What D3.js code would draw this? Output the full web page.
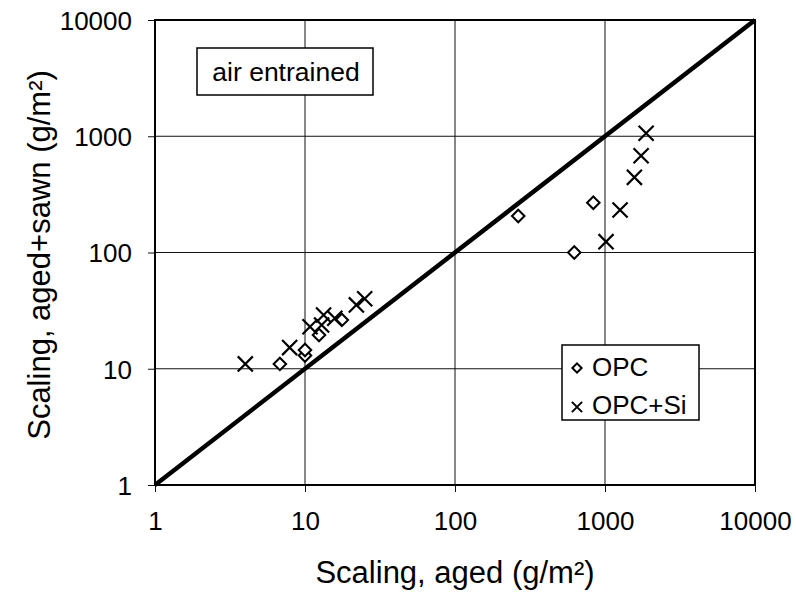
<!DOCTYPE html>
<html>
<head>
<meta charset="utf-8">
<script src="https://cdn.jsdelivr.net/npm/d3@7"></script>
<style>
  body { margin: 0; background: #fff; }
  text { font-family: "Liberation Sans", Arial, sans-serif; fill: #000; }
</style>
</head>
<body>
<div id="chart"></div>
<script>
// OPC series, [aged, aged+sawn]
var opc = [
    [6.8, 11], [10, 13], [10, 14.5], [12.4, 19.5], [17.6, 26.3],
    [264, 206], [624, 100], [836, 268]
];
// OPC+Si series
var opcSi = [
    [4, 11], [7.9, 15.2], [10.8, 23], [12.9, 23.8], [13.3, 29], [15.8, 27.2],
    [22, 35.4], [25, 40], [1016, 124], [1260, 232], [1570, 443], [1740, 680], [1880, 1060]
];
var ticks = [1, 10, 100, 1000, 10000];
var lineEnds = [1, 10000];

var width = 796, height = 596;
var plotL = 155, plotR = 755, plotT = 20, plotB = 485;

var svg = d3.select("#chart")
    .append("svg")
    .attr("width", width)
    .attr("height", height);

var x = d3.scaleLog().domain([1, 10000]).range([plotL, plotR]);
var y = d3.scaleLog().domain([1, 10000]).range([plotB, plotT]);

// grid
svg.append("g")
    .selectAll("line")
    .data(ticks)
    .enter()
    .append("line")
    .attr("x1", d => x(d)).attr("x2", d => x(d))
    .attr("y1", plotT).attr("y2", plotB)
    .attr("stroke", "#111").attr("stroke-width", 1);

svg.append("g")
    .selectAll("line")
    .data(ticks)
    .enter()
    .append("line")
    .attr("y1", d => y(d)).attr("y2", d => y(d))
    .attr("x1", plotL).attr("x2", plotR)
    .attr("stroke", "#111").attr("stroke-width", 1);

// axes
var xAxis = d3.axisBottom(x).tickValues(ticks).tickFormat(d3.format("d")).tickSizeOuter(0).tickSize(7).tickPadding(20);
var yAxis = d3.axisLeft(y).tickValues(ticks).tickFormat(d3.format("d")).tickSizeOuter(0).tickSize(7).tickPadding(16);

var gx = svg.append("g").attr("transform", "translate(0," + plotB + ")").call(xAxis);
var gy = svg.append("g").attr("transform", "translate(" + plotL + ",0)").call(yAxis);
[gx, gy].forEach(function(g) {
    g.attr("font-size", null).attr("font-family", null);
    g.select(".domain").remove();
    g.selectAll(".tick line").attr("stroke", "#111");
    g.selectAll(".tick text")
        .style("font-size", "26px")
        .attr("fill", "#000");
});
gy.selectAll(".tick text").attr("dy", "0.36em");

// frame
svg.append("rect")
    .attr("x", plotL).attr("y", plotT)
    .attr("width", plotR - plotL).attr("height", plotB - plotT)
    .attr("fill", "none").attr("stroke", "#000").attr("stroke-width", 2);

// 1:1 line
svg.append("line")
    .attr("x1", x(lineEnds[0])).attr("y1", y(lineEnds[0]))
    .attr("x2", x(lineEnds[1])).attr("y2", y(lineEnds[1]))
    .attr("stroke", "#000").attr("stroke-width", 4.5);

// markers
var diamond = d3.symbol().type(d3.symbolDiamond2).size(100);
svg.append("g")
    .selectAll("path")
    .data(opc)
    .enter()
    .append("path")
    .attr("d", diamond)
    .attr("transform", d => "translate(" + x(d[0]) + "," + y(d[1]) + ")")
    .attr("fill", "#fff").attr("stroke", "#000").attr("stroke-width", 2);

var cross = d3.symbol().type(d3.symbolX).size(150);
svg.append("g")
    .selectAll("path")
    .data(opcSi)
    .enter()
    .append("path")
    .attr("d", cross)
    .attr("transform", d => "translate(" + x(d[0]) + "," + y(d[1]) + ")")
    .attr("fill", "none").attr("stroke", "#000").attr("stroke-width", 2.2);

// annotation box
var note = svg.append("g");
note.append("rect")
    .attr("x", 197).attr("y", 48).attr("width", 176).attr("height", 47)
    .attr("fill", "#fff").attr("stroke", "#000").attr("stroke-width", 1.5);
note.append("text")
    .attr("x", 286).attr("y", 81)
    .attr("text-anchor", "middle")
    .style("font-size", "26.5px")
    .text("air entrained");

// legend
var leg = svg.append("g");
leg.append("rect")
    .attr("x", 562).attr("y", 345).attr("width", 137).attr("height", 75)
    .attr("fill", "#fff").attr("stroke", "#000").attr("stroke-width", 1.5);
leg.append("path")
    .attr("d", d3.symbol().type(d3.symbolDiamond2).size(55))
    .attr("transform", "translate(577,368)")
    .attr("fill", "#fff").attr("stroke", "#000").attr("stroke-width", 2);
leg.append("text").attr("x", 592).attr("y", 376).style("font-size", "26px").text("OPC");
leg.append("path")
    .attr("d", d3.symbol().type(d3.symbolX).size(70))
    .attr("transform", "translate(577,407)")
    .attr("fill", "none").attr("stroke", "#000").attr("stroke-width", 2);
leg.append("text").attr("x", 592).attr("y", 414).style("font-size", "26px").text("OPC+Si");

// axis titles
svg.append("text")
    .attr("x", 455).attr("y", 583)
    .attr("text-anchor", "middle")
    .style("font-size", "31px")
    .text("Scaling, aged (g/m²)");

svg.append("text")
    .attr("transform", "translate(50,255) rotate(-90)")
    .attr("text-anchor", "middle")
    .style("font-size", "31px")
    .text("Scaling, aged+sawn (g/m²)");
</script>
</body>
</html>
